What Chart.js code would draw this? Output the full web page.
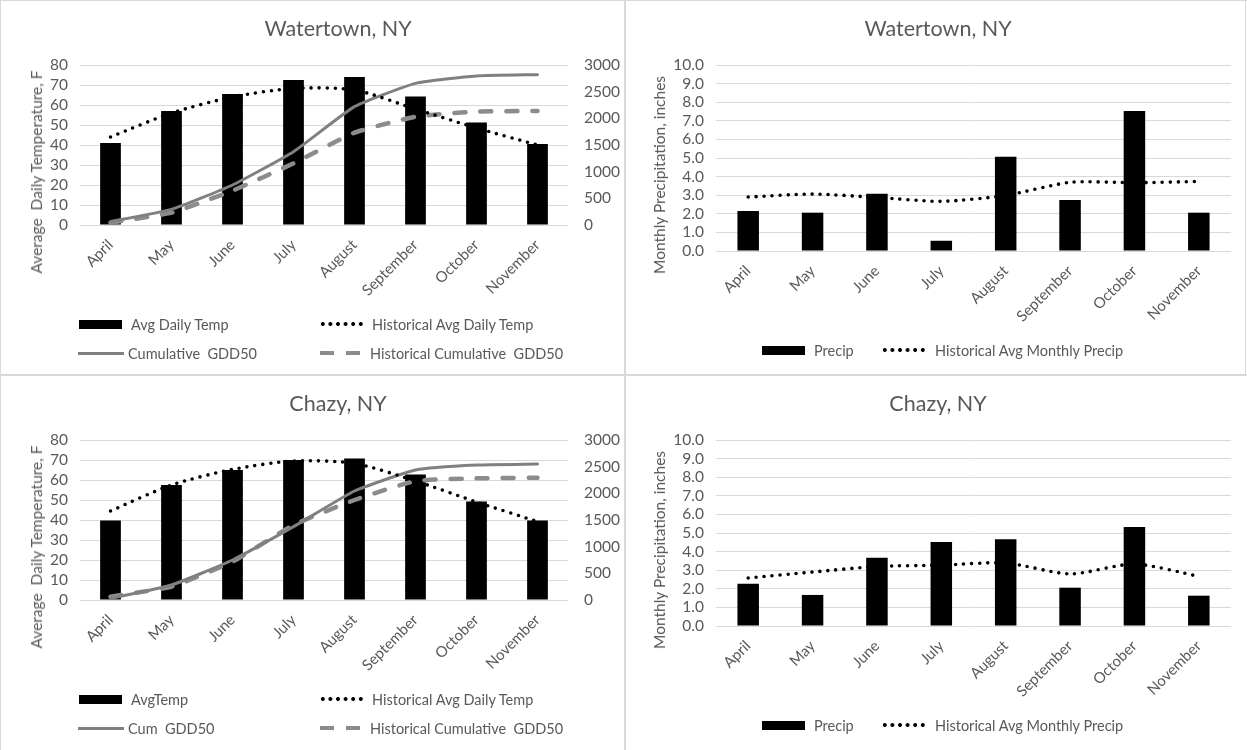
<!DOCTYPE html>
<html>
<head>
<meta charset="utf-8">
<title>Watertown and Chazy, NY – temperature, GDD50 and precipitation</title>
<script src="https://cdn.jsdelivr.net/npm/chart.js@4.4.1/dist/chart.umd.min.js"></script>
<style>
  html, body { margin: 0; padding: 0; background: #fff; }
  #board { position: relative; width: 1247px; height: 750px; overflow: hidden;
           font-family: Lato, "Open Sans", sans-serif; color: #595959; background: #fff; }
  .panel { position: absolute; height: 375px; }
  .panel canvas { position: absolute; left: 0; top: 0; }
  .title { position: absolute; top: 15px; font-size: 21.5px; line-height: 26px;
           white-space: pre; transform: translateX(-50%); }
  .ytitle { position: absolute; font-size: 15.5px; line-height: 18px; white-space: pre;
            transform: translate(-50%, -50%) rotate(-90deg); }
  .leg { position: absolute; display: flex; align-items: center; height: 20px;
         transform: translateY(-50%); font-size: 14.5px; white-space: pre; }
  .leg .mk { flex: none; }
  .mk.box { height: 9px; background: #000; }
  .mk.solid { height: 3px; background: #808080; }
  .mk.dash { height: 4.5px;
             background: repeating-linear-gradient(90deg, #8c8c8c 0 14px, transparent 14px 26px); }
  .mk.dots { height: 6px;
             background-image: radial-gradient(circle at center, #000 0 1.7px, transparent 2.2px);
             background-size: 7.6px 6px; background-repeat: repeat-x; }
  .rule { position: absolute; background: #d9d9d9; }
</style>
</head>
<body>
<div id="board"></div>
<script>
// ---- data -------------------------------------------------------------
const months = ['April', 'May', 'June', 'July', 'August', 'September', 'October', 'November'];

// axis ranges: [min, max, step]
const tempAxis = [0, 80, 10];
const gddAxis = [0, 3000, 500];
const precipAxis = [0, 10, 1];

// Watertown, NY
const watertownAvgTemp   = [41, 57, 65.5, 72.5, 74, 64.2, 51.3, 40.5];
const watertownHistTemp  = [44, 56, 64, 68.3, 67.5, 58, 48.5, 40];
const watertownGdd       = [62, 294, 750, 1375, 2219, 2656, 2794, 2819];
const watertownHistGdd   = [44, 231, 644, 1156, 1731, 2031, 2125, 2138];
const watertownPrecip    = [2.15, 2.06, 3.08, 0.55, 5.07, 2.74, 7.53, 2.06];
const watertownHistPrecip= [2.9, 3.06, 2.88, 2.67, 2.99, 3.69, 3.67, 3.74];

// Chazy, NY
const chazyAvgTemp   = [39.7, 57.5, 65, 70, 70.8, 62.8, 49.2, 39.7];
const chazyHistTemp  = [44.5, 57.5, 65.3, 69.5, 68.3, 59.5, 49, 39.2];
const chazyGdd       = [31, 281, 750, 1375, 2044, 2438, 2531, 2550];
const chazyHistGdd   = [62, 250, 719, 1406, 1875, 2231, 2281, 2294];
const chazyPrecip    = [2.27, 1.67, 3.67, 4.52, 4.66, 2.06, 5.32, 1.63];
const chazyHistPrecip= [2.58, 2.9, 3.2, 3.27, 3.39, 2.8, 3.33, 2.67];

// ---- styling ----------------------------------------------------------
const TEXT = '#595959';
const GRID = '#d9d9d9';
const FONT = 'Lato, "Open Sans", sans-serif';
Chart.defaults.font.family = FONT;
Chart.defaults.color = TEXT;

const board = document.getElementById('board');

function el(tag, cls, parent) {
  const e = document.createElement(tag);
  if (cls) e.className = cls;
  parent.appendChild(e);
  return e;
}

function makePanel(left, top, width) {
  const p = el('div', 'panel', board);
  p.style.left = left + 'px';
  p.style.top = top + 'px';
  p.style.width = width + 'px';
  const c = el('canvas', null, p);
  c.width = width; c.height = 375;
  c.style.width = width + 'px'; c.style.height = '375px';
  return { p, c };
}

function addText(parent, cls, text, x, y) {
  const t = el('div', cls, parent);
  t.textContent = text;
  t.style.left = x + 'px';
  if (y !== undefined) t.style.top = y + 'px';
  return t;
}

function addLegend(parent, items) {
  items.forEach(it => {
    const row = el('div', 'leg', parent);
    row.style.left = it.x + 'px';
    row.style.top = it.y + 'px';
    const mk = el('span', 'mk ' + it.kind, row);
    mk.style.width = it.w + 'px';
    mk.style.marginRight = it.gap + 'px';
    const tx = el('span', null, row);
    tx.textContent = it.label;
  });
}

const tickFont = { family: FONT, size: 15.5 };
const xTickFont = { family: FONT, size: 15 };

const lineCommon = {
  type: 'line', pointRadius: 0, pointHoverRadius: 0, fill: false, order: 1
};

function tempChart(canvas, avgLabel, avg, hist, gddLabel, gdd, histGdd) {
  return new Chart(canvas, {
    type: 'bar',
    data: {
      labels: months,
      datasets: [
        { label: avgLabel, data: avg, backgroundColor: '#000', borderWidth: 0,
          categoryPercentage: 1, barPercentage: 0.34, yAxisID: 'y', order: 2 },
        { ...lineCommon, label: 'Historical Avg Daily Temp', data: hist, yAxisID: 'y', tension: 0.25,
          borderColor: '#000', borderWidth: 3.6, borderDash: [0, 8], borderCapStyle: 'round' },
        { ...lineCommon, label: gddLabel, data: gdd, yAxisID: 'y2', tension: 0.15,
          borderColor: '#808080', borderWidth: 3, borderCapStyle: 'round' },
        { ...lineCommon, label: 'Historical Cumulative  GDD50', data: histGdd, yAxisID: 'y2', tension: 0.15,
          borderColor: '#8c8c8c', borderWidth: 4.5, borderDash: [11, 15], borderCapStyle: 'round' }
      ]
    },
    options: {
      responsive: false, animation: false, devicePixelRatio: 1,
      layout: { padding: { left: 0, right: 0, top: 65, bottom: 0 } },
      plugins: { legend: { display: false }, tooltip: { enabled: false }, title: { display: false } },
      scales: {
        x: {
          grid: { display: false, drawTicks: false }, border: { display: false },
          ticks: { color: TEXT, font: xTickFont, minRotation: 45, maxRotation: 45, autoSkip: false, padding: 11 },
          afterFit(s) { s.height = 150; }
        },
        y: {
          position: 'left', min: tempAxis[0], max: tempAxis[1],
          ticks: { stepSize: tempAxis[2], color: TEXT, font: tickFont, padding: 12, autoSkip: false },
          grid: { color: GRID, lineWidth: 1, drawTicks: false }, border: { display: false },
          afterFit(s) { s.width = 80; }
        },
        y2: {
          position: 'right', min: gddAxis[0], max: gddAxis[1],
          ticks: { stepSize: gddAxis[2], color: TEXT, font: tickFont, padding: 16, autoSkip: false,
                   callback: v => String(v) },
          grid: { drawOnChartArea: false, drawTicks: false }, border: { display: false },
          afterFit(s) { s.width = 56; }
        }
      }
    }
  });
}

function precipChart(canvas, precip, hist) {
  return new Chart(canvas, {
    type: 'bar',
    data: {
      labels: months,
      datasets: [
        { label: 'Precip', data: precip, backgroundColor: '#000', borderWidth: 0,
          categoryPercentage: 1, barPercentage: 0.334, order: 2 },
        { ...lineCommon, label: 'Historical Avg Monthly Precip', data: hist, tension: 0.25,
          borderColor: '#000', borderWidth: 3.6, borderDash: [0, 8], borderCapStyle: 'round' }
      ]
    },
    options: {
      responsive: false, animation: false, devicePixelRatio: 1,
      layout: { padding: { left: 0, right: 16, top: 65, bottom: 0 } },
      plugins: { legend: { display: false }, tooltip: { enabled: false }, title: { display: false } },
      scales: {
        x: {
          grid: { display: false, drawTicks: false }, border: { display: false },
          ticks: { color: TEXT, font: xTickFont, minRotation: 45, maxRotation: 45, autoSkip: false, padding: 11 },
          afterFit(s) { s.height = 124; }
        },
        y: {
          min: precipAxis[0], max: precipAxis[1],
          ticks: { stepSize: precipAxis[2], color: TEXT, font: tickFont, padding: 12, autoSkip: false,
                   callback: v => Number(v).toFixed(1) },
          grid: { color: GRID, lineWidth: 1, drawTicks: false }, border: { display: false },
          afterFit(s) { s.width = 90; }
        }
      }
    }
  });
}

function tempPanel(top, title, avgLabel, avg, hist, gddLabel, gdd, histGdd) {
  const { p, c } = makePanel(0, top, 624);
  tempChart(c, avgLabel, avg, hist, gddLabel, gdd, histGdd);
  addText(p, 'title', title, 338);
  addText(p, 'ytitle', 'Average  Daily Temperature, F', 36, 172);
  addLegend(p, [
    { kind: 'box',   w: 43, gap: 9,  label: avgLabel, x: 79, y: 324 },
    { kind: 'dots',  w: 45, gap: 8,  label: 'Historical Avg Daily Temp', x: 319, y: 324 },
    { kind: 'solid', w: 46, gap: 4,  label: gddLabel, x: 78, y: 353 },
    { kind: 'dash',  w: 44, gap: 6,  label: 'Historical Cumulative  GDD50', x: 320, y: 353 }
  ]);
}

function precipPanel(top, title, precip, hist) {
  const { p, c } = makePanel(626, top, 621);
  precipChart(c, precip, hist);
  addText(p, 'title', title, 312);
  addText(p, 'ytitle', 'Monthly Precipitation, inches', 33, 175);
  addLegend(p, [
    { kind: 'box',  w: 43, gap: 9, label: 'Precip', x: 136, y: 350 },
    { kind: 'dots', w: 45, gap: 9, label: 'Historical Avg Monthly Precip', x: 255, y: 350 }
  ]);
}

tempPanel(0,   'Watertown, NY', 'Avg Daily Temp', watertownAvgTemp, watertownHistTemp,
          'Cumulative  GDD50', watertownGdd, watertownHistGdd);
precipPanel(0, 'Watertown, NY', watertownPrecip, watertownHistPrecip);
tempPanel(375, 'Chazy, NY', 'AvgTemp', chazyAvgTemp, chazyHistTemp,
          'Cum  GDD50', chazyGdd, chazyHistGdd);
precipPanel(375, 'Chazy, NY', chazyPrecip, chazyHistPrecip);

// frame lines between and around the four charts
[
  { l: 624, t: 0, w: 2, h: 750 },
  { l: 0, t: 374, w: 1247, h: 2 },
  { l: 0, t: 0, w: 1247, h: 1 },
  { l: 0, t: 0, w: 1, h: 750 },
  { l: 1245, t: 0, w: 1, h: 375 }
].forEach(r => {
  const d = el('div', 'rule', board);
  d.style.left = r.l + 'px'; d.style.top = r.t + 'px';
  d.style.width = r.w + 'px'; d.style.height = r.h + 'px';
});
</script>
</body>
</html>
